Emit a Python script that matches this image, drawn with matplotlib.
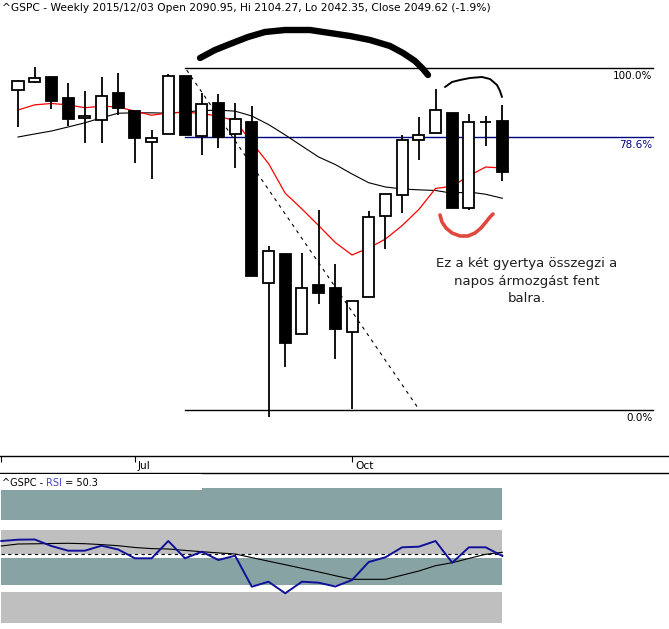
import matplotlib
matplotlib.use("Agg")
import matplotlib.pyplot as plt
from matplotlib.patches import Rectangle

# ---------------- data ----------------
week_idx = list(range(30))
opens  = [2116.1, 2122.8, 2127.2, 2109.5, 2093.0, 2091.4, 2113.6, 2099.0, 2073.4, 2079.9,
          2127.8, 2078.3, 2105.4, 2080.4, 2090.0, 1961.9, 1984.5, 1923.0, 1960.3, 1958.2,
          1925.0, 1951.3, 2014.1, 2031.0, 2075.0, 2080.7, 2097.1, 2020.4, 2090.2, 2090.95]
highs  = [2124.7, 2135.3, 2127.2, 2122.0, 2115.8, 2127.0, 2130.8, 2099.0, 2083.4, 2129.7,
          2127.8, 2113.6, 2112.8, 2105.4, 2103.1, 1990.8, 1984.5, 1985.1, 2019.1, 1976.8,
          1948.1, 2018.5, 2031.8, 2079.4, 2093.8, 2117.0, 2097.1, 2096.3, 2095.2, 2104.27]
lows   = [2086.1, 2122.0, 2100.4, 2086.7, 2072.6, 2073.1, 2095.7, 2056.4, 2043.5, 2079.9,
          2079.4, 2063.5, 2068.4, 2052.4, 1967.7, 1861.9, 1898.7, 1923.0, 1945.8, 1904.7,
          1867.3, 1951.3, 1988.7, 2016.5, 2059.1, 2080.7, 2020.9, 2019.1, 2070.6, 2042.35]
closes = [2123.9, 2126.6, 2107.5, 2092.7, 2094.9, 2111.2, 2101.7, 2076.7, 2076.7, 2127.8,
          2079.4, 2104.5, 2078.0, 2092.4, 1967.7, 1986.6, 1916.7, 1958.0, 1954.6, 1927.2,
          1948.1, 2013.3, 2031.8, 2075.3, 2079.4, 2099.8, 2020.9, 2089.7, 2089.7, 2049.62]

ma_fast = [2099.8, 2104.1, 2105.2, 2104.1, 2101.7, 2103.0, 2102.3, 2098.9, 2095.5, 2097.5,
           2098.0, 2097.0, 2094.7, 2091.0, 2073.2, 2056.2, 2032.4, 2019.9, 2006.8, 1993.5,
           1983.8, 1989.2, 1996.2, 2006.8, 2019.5, 2036.2, 2038.0, 2046.3, 2053.4, 2052.6]
ma_slow = [2077.7, 2080.2, 2082.6, 2085.9, 2089.3, 2093.4, 2097.2, 2097.5, 2097.5, 2097.2,
           2098.2, 2099.4, 2099.7, 2098.9, 2094.9, 2087.9, 2079.4, 2070.4, 2061.5, 2055.4,
           2047.8, 2040.8, 2037.4, 2035.8, 2035.1, 2034.6, 2032.4, 2033.4, 2031.6, 2028.4]

fib_high = 2134.72
fib_low = 1867.01
fib_ratios = [1.0, 0.786, 0.0]
fib_labels = ["100.0%", "78.6%", "0.0%"]
fib_colors = ["black", "#000080", "black"]
fib_x = [10, 38]

trend_x = [10.1, 23.9]
trend_y = [2133.0, 1869.2]

rsi_idx = list(range(-1, 30))
rsi = [55.32, 55.84, 55.92, 53.32, 51.44, 51.44, 53.44, 51.92, 48.40, 48.40,
       55.32, 48.40, 51.04, 47.72, 49.44, 37.04, 39.04, 34.40, 39.04, 38.64,
       37.12, 39.72, 46.92, 48.80, 52.80, 53.04, 55.32, 46.64, 52.80, 52.80, 49.32]
rsi_signal = [53.32, 54.12, 54.20, 54.32, 54.40, 54.24, 53.88, 53.44, 52.72, 52.28,
              52.12, 51.56, 51.04, 50.56, 50.12, 48.68, 47.24, 45.84, 44.40, 42.96,
              41.44, 40.00, 40.00, 40.00, 41.64, 43.32, 45.44, 46.64, 48.36, 50.00, 50.80]
rsi_mid = 50
rsi_bands = [(63.72, 76.64, "#87a3a3"), (50.0, 59.72, "#c0bfbf"),
             (37.72, 48.64, "#87a3a3"), (22.64, 34.92, "#c0bfbf")]

month_ticks = [-1, 7, 20]
month_labels = ["", "Jul", "Oct"]

title = "^GSPC - Weekly 2015/12/03 Open 2090.95, Hi 2104.27, Lo 2042.35, Close 2049.62 (-1.9%)"
note = "Ez a két gyertya összegzi a\nnapos ármozgást fent\nbalra."

# freehand annotation strokes (screen pixels)
arc_big_x = [200, 215, 230, 248, 265, 285, 310, 330, 350, 370, 390, 403, 415, 423, 428]
arc_big_y = [58, 50, 44, 37, 32, 30, 30, 33, 36, 40, 46, 53, 61, 69, 75]
arc_small_x = [445, 452, 460, 470, 482, 490, 497, 500, 502]
arc_small_y = [87, 82, 80, 78, 77, 79, 85, 91, 97]
smile_x = [440, 442, 446, 452, 460, 468, 475, 481, 486, 490, 493]
smile_y = [215, 222, 228, 233, 236, 236, 233, 228, 222, 217, 214]

# ---------------- figure ----------------
W, H = 669, 629
fig = plt.figure(figsize=(W / 100, H / 100), dpi=100)
XL = (-1.078, 38.98)

def box(top, bottom):
    return [0, 1 - bottom / H, 1, (bottom - top) / H]

# main price axes (log scale)
ax = fig.add_axes(box(0, 456))
ax.set_yscale("log")
ax.set_xlim(*XL)
ax.set_ylim(1833.4, 2192.4)
ax.set_axis_off()

ax.plot(week_idx, ma_slow, color="black", lw=0.8, zorder=2)
ax.plot(week_idx, ma_fast, color="#ff0000", lw=0.9, zorder=2)

for r, lab, c in zip(fib_ratios, fib_labels, fib_colors):
    lvl = fib_low + r * (fib_high - fib_low)
    ax.plot(fib_x, [lvl, lvl], color=c, lw=1.0, zorder=1)
    ax.annotate(lab, (fib_x[1], lvl), xytext=(0, -5.8), textcoords="offset points",
                ha="right", va="center", fontsize=7.5, color=c)

for i, o, h, l, c in zip(week_idx, opens, highs, lows, closes):
    ax.vlines(i, l, h, color="black", lw=1.3, zorder=3)
    up = c >= o
    ax.bar(i, abs(c - o), bottom=min(o, c), width=0.66,
           color="white" if up else "black", edgecolor="black", linewidth=1.3, zorder=4)

ax.plot(trend_x, trend_y, color="black", lw=0.8, ls=(0, (3, 4)), zorder=5)

# date strip
axd = fig.add_axes(box(456, 473))
axd.set_xlim(*XL)
axd.set_ylim(0, 1)
for s in ("left", "right"):
    axd.spines[s].set_visible(False)
for s in ("top", "bottom"):
    axd.spines[s].set_linewidth(1.0)
axd.set_yticks([])
axd.xaxis.set_ticks_position("top")
axd.set_xticks(month_ticks)
axd.set_xticklabels([])
axd.tick_params(axis="x", direction="in", length=4.5, width=0.8)
for t, lab in zip(month_ticks, month_labels):
    axd.text(t + 0.18, 0.44, lab, fontsize=7.7, ha="left", va="center")

# RSI panel
axr = fig.add_axes(box(473, 629))
axr.set_xlim(*XL)
axr.set_ylim(20.12, 82.52)
axr.set_axis_off()
for lo, hi, col in rsi_bands:
    axr.fill_between([rsi_idx[0], rsi_idx[-1]], lo, hi, color=col, lw=0, zorder=1)
axr.plot([rsi_idx[0], rsi_idx[-1]], [rsi_mid, rsi_mid], color="black", lw=0.8,
         ls=(0, (3, 3)), zorder=2)
axr.plot(rsi_idx, rsi_signal, color="black", lw=0.8, zorder=3)
axr.plot(rsi_idx, rsi, color="#10109a", lw=1.4, zorder=4)

# overlay for titles and freehand annotations
ov = fig.add_axes([0, 0, 1, 1])
ov.set_xlim(0, W)
ov.set_ylim(H, 0)
ov.set_axis_off()
ov.patch.set_alpha(0)

ov.add_patch(Rectangle((0, 474), 202, 16, color="white", lw=0, zorder=1))
ov.text(1.5, 7.7, title, fontsize=7.65, ha="left", va="center", zorder=3)

rend = fig.canvas.get_renderer()
xpos = 1.5
for part, col in (("^GSPC - ", "black"), ("RSI", "#4646c8"), (" = 50.3", "black")):
    t = ov.text(xpos, 482.5, part, fontsize=7.0, ha="left", va="center", color=col, zorder=3)
    bb = t.get_window_extent(rend)
    xpos = ov.transData.inverted().transform((bb.x1, bb.y0))[0]

ov.plot(arc_big_x, arc_big_y, color="black", lw=4.6, solid_capstyle="round",
        solid_joinstyle="round", zorder=4)
ov.plot(arc_small_x, arc_small_y, color="black", lw=1.4, solid_capstyle="round", zorder=4)
ov.plot(smile_x, smile_y, color="#e0473f", lw=2.6, solid_capstyle="round", zorder=4)

ov.text(527, 281, note, fontsize=9.5, ha="center", va="center", linespacing=1.4,
        color="#1e1e1e", zorder=4)

fig.savefig("out.png", dpi=100, facecolor="white")
